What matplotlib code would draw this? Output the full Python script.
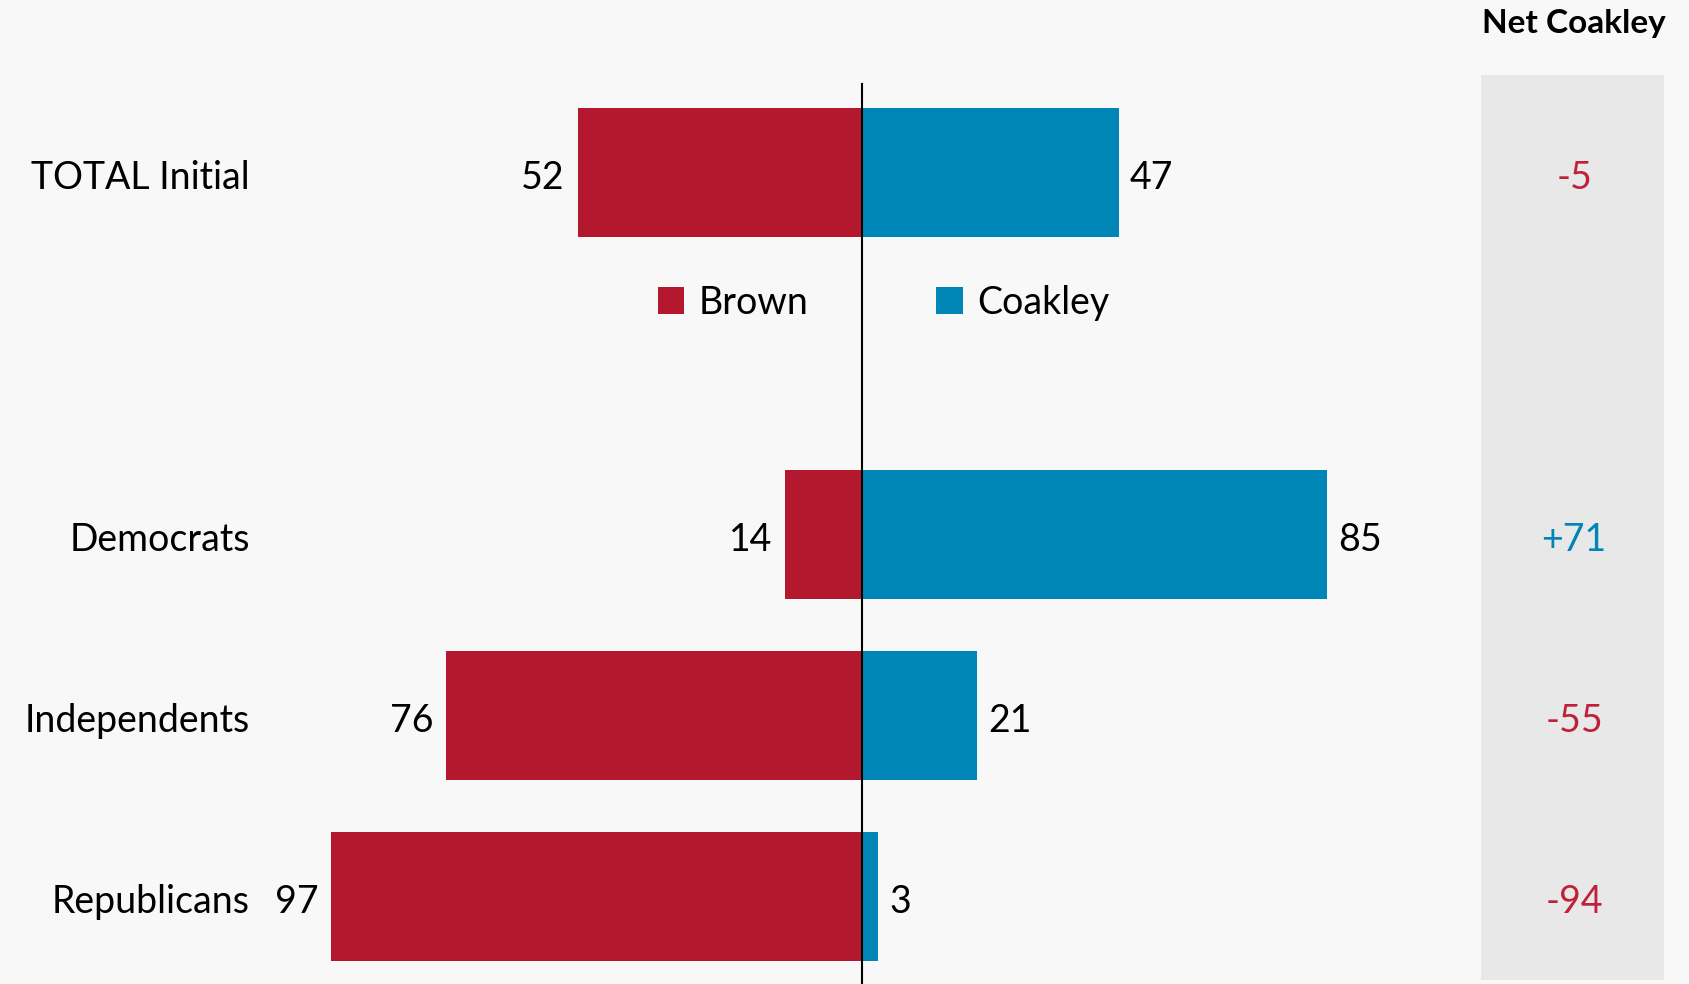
import numpy as np
import matplotlib.pyplot as plt

plt.rcParams['font.family'] = ['Lato', 'DejaVu Sans']

groups = ['TOTAL Initial', 'Democrats', 'Independents', 'Republicans']
slots = [0, 2, 3, 4]
brown = [52, 14, 76, 97]
coakley = [47, 85, 21, 3]
net = [c - b for b, c in zip(brown, coakley)]

red = '#b3182e'
blue = '#0086b6'
bg = '#f8f8f8'

fig = plt.figure(figsize=(16.89, 9.84), dpi=100, facecolor=bg)
ax = fig.add_axes([0, 0, 1, 1])
ax.set_facecolor(bg)
ax.set_xlim(-157.6, 151.2)
ax.set_ylim(4.484, -0.952)
ax.axis('off')

fs = 27
dy = 0.03  # text sits a touch below bar centre

# gray panel for the net column
ax.add_patch(plt.Rectangle((113.2, -0.538), 33.4, 5.0, facecolor='#e8e8e8',
                           edgecolor='none', zorder=0))
ax.text(130.2, -0.82, 'Net Coakley', ha='center', va='center',
        fontsize=24, fontweight='bold')

hb = ax.barh(slots, [-b for b in brown], height=0.71, color=red, label='Brown', zorder=2)
hc = ax.barh(slots, coakley, height=0.71, color=blue, label='Coakley', zorder=2)
ax.plot([0, 0], [-0.49, 4.6], color='black', lw=1.5, zorder=3)

for y, g, b, c, n in zip(slots, groups, brown, coakley, net):
    ax.text(-111.9, y + dy, g, ha='right', va='center', fontsize=fs)
    ax.text(-b - 2.3, y + dy, str(b), ha='right', va='center', fontsize=fs)
    ax.text(c + 2.0, y + dy, str(c), ha='left', va='center', fontsize=fs)
    ax.text(130.2, y + dy, f'{n:+d}' if n > 0 else str(n), ha='center', va='center',
            fontsize=fs, color=blue if n > 0 else '#c0213a')

ax.legend(handles=[hb, hc], loc='center', bbox_to_anchor=(4, 0.72),
          bbox_transform=ax.transData, ncol=2, frameon=False, fontsize=fs,
          handlelength=0.7, handleheight=0.7, handletextpad=0.4,
          columnspacing=3.4)

fig.savefig('out.png', dpi=100, facecolor=bg)
